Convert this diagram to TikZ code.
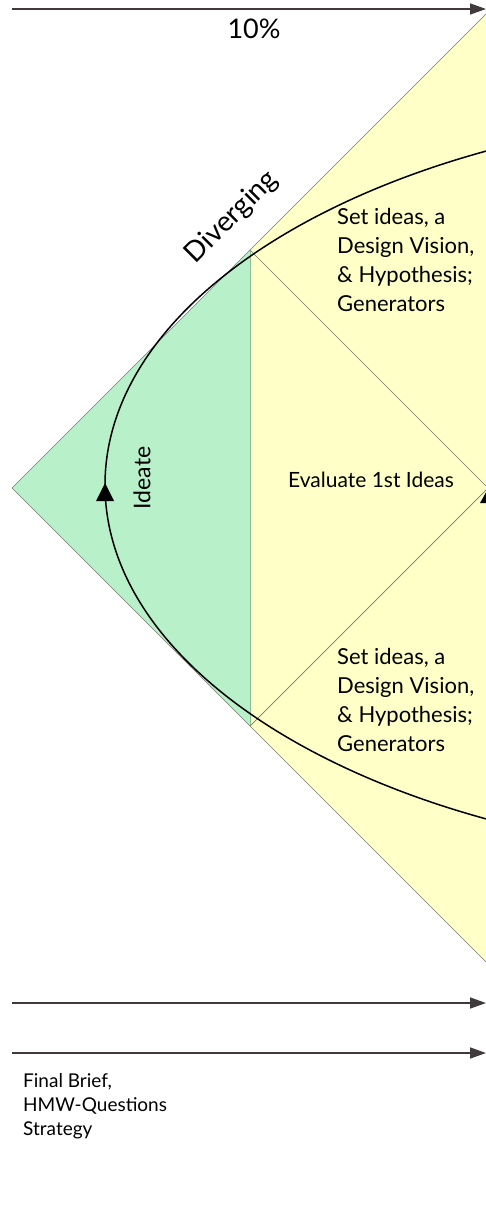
\documentclass[tikz,border=0pt]{standalone}
\usepackage{fontspec}
\setmainfont{Lato}
\usetikzlibrary{arrows.meta}
\definecolor{ideagreen}{RGB}{184,240,202}
\definecolor{paleyellow}{RGB}{255,255,200}
\definecolor{arrowgray}{RGB}{64,58,60}
\definecolor{edgegray}{RGB}{120,120,110}
\definecolor{greenedge}{RGB}{140,190,150}
\begin{document}
\begin{tikzpicture}[x=1pt,y=-1pt,
  thinedge/.style={draw=edgegray,line width=0.7pt},
  timeline/.style={draw=arrowgray,line width=1.6pt,-{Triangle[length=16pt,width=11pt]}},
  curve/.style={draw=black,line width=1.5pt},
  lbl/.style={inner sep=0pt,text=black,align=left},
  ]
\useasboundingbox (0,0) rectangle (486,1222);
\clip (0,0) rectangle (486,1222);
% key points
\coordinate (L) at (12,488);
\coordinate (T) at (250,250);
\coordinate (B) at (250,726);
\coordinate (R) at (488,488);
\coordinate (TR) at (500,0);
\coordinate (BR) at (500,976);
\coordinate (EC) at (805,485);
% areas
\fill[paleyellow] (T) -- (TR) -- (BR) -- (B) -- cycle;
\fill[ideagreen] (L) -- (T) -- (B) -- cycle;
\draw[greenedge,line width=0.8pt] (T) -- (B);
\draw[thinedge] (L) -- (TR);
\draw[thinedge] (L) -- (BR);
\draw[thinedge] (T) -- (R) -- (B);
% ideation loop
\draw[curve] (EC) ellipse [x radius=700, y radius=375];
\fill[black] (105,483) -- (114,501) -- (96,501) -- cycle;
\fill[black] (489,487) -- (498,503) -- (480,503) -- cycle;
% timelines
\coordinate (t1s) at (12,9);
\coordinate (t1e) at (486,9);
\coordinate (t2s) at (12,1003);
\coordinate (t2e) at (486,1003);
\coordinate (t3s) at (12,1053);
\coordinate (t3e) at (486,1053);
\draw[timeline] (t1s) -- (t1e);
\draw[timeline] (t2s) -- (t2e);
\draw[timeline] (t3s) -- (t3e);
% labels
\node[lbl,font=\fontsize{27}{30}\selectfont] (pct) at (254,29) {10\%};
\node[lbl,font=\fontsize{28}{32}\selectfont,rotate=45] (div) at (232,217) {Diverging};
\node[lbl,font=\fontsize{23}{26}\selectfont,rotate=90] (ideate) at (142,478) {Ideate};
\node[lbl,font=\fontsize{21}{24}\selectfont] (eval) at (371,480) {Evaluate 1st Ideas};
\node[lbl,anchor=north west,font=\fontsize{22}{29}\selectfont] (set1) at (337,208)
  {Set ideas, a\\Design Vision,\\\& Hypothesis;\\Generators};
\node[lbl,anchor=north west,font=\fontsize{22}{29}\selectfont] (set2) at (337,648)
  {Set ideas, a\\Design Vision,\\\& Hypothesis;\\Generators};
\node[lbl,anchor=north west,font=\fontsize{19}{24}\selectfont] (brief) at (23,1073)
  {Final Brief,\\HMW-Questions\\Strategy};
\end{tikzpicture}
\end{document}
